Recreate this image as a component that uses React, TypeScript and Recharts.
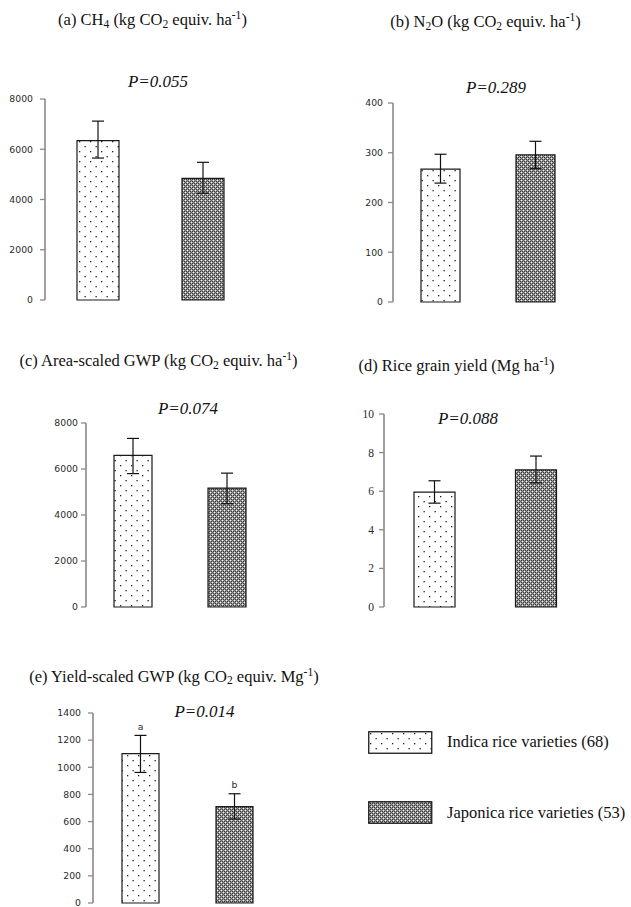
import React from 'react';
import { BarChart, Bar, XAxis, YAxis, ErrorBar, Cell, LabelList } from 'recharts';

const categories = ['Indica rice varieties (68)', 'Japonica rice varieties (53)'];

const ch4Mean = [6340, 4840];
const ch4Lower = [5650, 4250];
const ch4Upper = [7120, 5480];

const n2oMean = [267, 296];
const n2oLower = [239, 268];
const n2oUpper = [297, 323];

const gwpMean = [6590, 5170];
const gwpLower = [5800, 4490];
const gwpUpper = [7330, 5820];

const yieldMean = [5.95, 7.11];
const yieldLower = [5.38, 6.43];
const yieldUpper = [6.54, 7.82];

const ygwpMean = [1100, 710];
const ygwpLower = [962, 619];
const ygwpUpper = [1235, 805];
const ygwpLetters = ['a', 'b'];

const ticksCH4 = [0, 2000, 4000, 6000, 8000];
const ticksN2O = [0, 100, 200, 300, 400];
const ticksGWP = [0, 2000, 4000, 6000, 8000];
const ticksYield = [0, 2, 4, 6, 8, 10];
const ticksYGWP = [0, 200, 400, 600, 800, 1000, 1200, 1400];

const fills = ['url(#dotsPat)', 'url(#checkPat)'];

function build(mean: number[], lower: number[], upper: number[], letters?: string[]) {
  return categories.map((name, i) => ({
    name,
    value: mean[i],
    upper: upper[i],
    err: [mean[i] - lower[i], upper[i] - mean[i]],
    letter: letters ? letters[i] : '',
  }));
}

const AXIS = '#8a8a8a';
const serif = "'Liberation Serif'";
const sans = "'DejaVu Sans'";

type PanelProps = {
  data: any[];
  ticks: number[];
  left: number;
  right: number;
  top: number;
  bottom: number;
  barSize: number;
  tickMargin: number;
  serifTicks?: boolean;
  letters?: boolean;
};

const Panel = ({ data, ticks, left, right, top, bottom, barSize, tickMargin, serifTicks, letters }: PanelProps) => {
  const yw = 45;
  const mt = 10;
  const mb = 10;
  const width = right - left + yw + 6;
  const height = bottom - top + mt + mb;
  const max = ticks[ticks.length - 1];
  const plotH = bottom - top;
  const Tick = (p: any) => (
    <text
      x={p.x}
      y={p.y}
      dy="0.35em"
      textAnchor="end"
      style={{ fontFamily: serifTicks ? serif : sans, fontSize: serifTicks ? 11.5 : 9.3 }}
      fill="#2a2a2a"
    >
      {p.payload.value}
    </text>
  );
  const renderLetter = (p: any) => {
    const d = data[p.index];
    if (!d || !d.letter) return null;
    const errPx = ((d.upper - d.value) / max) * plotH;
    return (
      <text
        x={p.x + p.width / 2}
        y={p.y - errPx - 9}
        dy="0.35em"
        textAnchor="middle"
        style={{ fontFamily: sans, fontSize: 9.3 }}
        fill="#2a2a2a"
      >
        {d.letter}
      </text>
    );
  };
  return (
    <div style={{ position: 'absolute', left: left - yw, top: top - mt }}>
      <BarChart width={width} height={height} data={data} margin={{ top: mt, right: 6, bottom: mb, left: 0 }} barCategoryGap={0}>
        <XAxis dataKey="name" tick={false} tickLine={false} height={0} axisLine={{ stroke: AXIS, strokeWidth: 1.6 }} />
        <YAxis
          width={yw}
          domain={[0, max]}
          ticks={ticks}
          interval={0}
          tick={<Tick />}
          tickSize={5}
          tickMargin={tickMargin}
          tickLine={{ stroke: AXIS, strokeWidth: 1.3 }}
          axisLine={{ stroke: AXIS, strokeWidth: 1.6 }}
        />
        <Bar dataKey="value" barSize={barSize} stroke="#1a1a1a" strokeWidth={1.2} isAnimationActive={false}>
          {data.map((_, i) => (
            <Cell key={i} fill={fills[i]} />
          ))}
          <ErrorBar dataKey="err" width={6} stroke="#111" strokeWidth={1.2} isAnimationActive={false} />
          {letters ? <LabelList dataKey="letter" content={renderLetter} /> : null}
        </Bar>
      </BarChart>
    </div>
  );
};

const Title = ({ cx, cy, children }: { cx: number; cy: number; children: React.ReactNode }) => (
  <div
    style={{
      position: 'absolute',
      left: cx - 200,
      top: cy - 8,
      width: 400,
      textAlign: 'center',
      fontFamily: serif,
      fontSize: 16.5,
      lineHeight: '16px',
      color: '#111',
      whiteSpace: 'nowrap',
    }}
  >
    {children}
  </div>
);

const PVal = ({ cx, cy, text }: { cx: number; cy: number; text: string }) => (
  <div
    style={{
      position: 'absolute',
      left: cx - 100,
      top: cy - 8,
      width: 200,
      textAlign: 'center',
      fontFamily: serif,
      fontStyle: 'italic',
      fontSize: 17,
      lineHeight: '16px',
      color: '#111',
    }}
  >
    {text}
  </div>
);

const Sub = ({ children }: { children: React.ReactNode }) => (
  <span style={{ fontSize: '0.7em', position: 'relative', top: '0.25em' }}>{children}</span>
);
const Sup = ({ children }: { children: React.ReactNode }) => (
  <span style={{ fontSize: '0.7em', position: 'relative', top: '-0.5em' }}>{children}</span>
);

const LegendItem = ({ top, fill, label }: { top: number; fill: string; label: string }) => (
  <div style={{ position: 'absolute', left: 368, top, height: 23, display: 'flex', alignItems: 'center' }}>
    <svg width={65} height={23} style={{ display: 'block' }}>
      <rect x={0.75} y={0.75} width={63} height={21.5} fill={fill} stroke="#1a1a1a" strokeWidth={1.3} />
    </svg>
    <span style={{ marginLeft: 14, fontFamily: serif, fontSize: 16.5, color: '#111', whiteSpace: 'nowrap' }}>{label}</span>
  </div>
);

export default function App() {
  return (
    <div style={{ position: 'absolute', left: 0, top: 0, width: 631, height: 907, background: '#fff', overflow: 'hidden' }}>
      <svg width={0} height={0} style={{ position: 'absolute' }}>
        <defs>
          <pattern id="dotsPat" width={11} height={10} patternUnits="userSpaceOnUse">
            <rect width={11} height={10} fill="#ffffff" />
            <rect x={2} y={2} width={1.3} height={1.3} fill="#222" />
            <rect x={7.5} y={7} width={1.3} height={1.3} fill="#222" />
          </pattern>
          <pattern id="checkPat" width={4} height={4} patternUnits="userSpaceOnUse">
            <rect width={4} height={4} fill="#9a9a9a" />
            <rect x={0} y={0} width={1} height={1} fill="#3a3a3a" />
            <rect x={2} y={0} width={1} height={1} fill="#3a3a3a" />
            <rect x={1} y={1} width={1} height={1} fill="#6a6a6a" />
            <rect x={3} y={1} width={1} height={1} fill="#f2f2f2" />
            <rect x={0} y={2} width={1} height={1} fill="#3a3a3a" />
            <rect x={2} y={2} width={1} height={1} fill="#3a3a3a" />
            <rect x={1} y={3} width={1} height={1} fill="#f2f2f2" />
            <rect x={3} y={3} width={1} height={1} fill="#6a6a6a" />
          </pattern>
        </defs>
      </svg>

      <Title cx={152.5} cy={20}>
        (a) CH<Sub>4</Sub> (kg CO<Sub>2</Sub> equiv. ha<Sup>-1</Sup>)
      </Title>
      <Title cx={485.5} cy={22}>
        (b) N<Sub>2</Sub>O (kg CO<Sub>2</Sub> equiv. ha<Sup>-1</Sup>)
      </Title>
      <Title cx={158.5} cy={361}>
        (c) Area-scaled GWP (kg CO<Sub>2</Sub> equiv. ha<Sup>-1</Sup>)
      </Title>
      <Title cx={456.5} cy={365.5}>
        (d) Rice grain yield (Mg ha<Sup>-1</Sup>)
      </Title>
      <Title cx={174} cy={676.5}>
        (e) Yield-scaled GWP (kg CO<Sub>2</Sub> equiv. Mg<Sup>-1</Sup>)
      </Title>

      <PVal cx={158} cy={81.5} text="P=0.055" />
      <PVal cx={496} cy={88} text="P=0.289" />
      <PVal cx={188} cy={409} text="P=0.074" />
      <PVal cx={468} cy={419} text="P=0.088" />
      <PVal cx={204.5} cy={711.5} text="P=0.014" />

      <Panel data={build(ch4Mean, ch4Lower, ch4Upper)} ticks={ticksCH4} left={45} right={255} top={99} bottom={300} barSize={42} tickMargin={7} />
      <Panel data={build(n2oMean, n2oLower, n2oUpper)} ticks={ticksN2O} left={393} right={583} top={103} bottom={302} barSize={39} tickMargin={5} />
      <Panel data={build(gwpMean, gwpLower, gwpUpper)} ticks={ticksGWP} left={86} right={274} top={423} bottom={607} barSize={38} tickMargin={3} />
      <Panel data={build(yieldMean, yieldLower, yieldUpper)} ticks={ticksYield} left={384} right={587} top={414} bottom={607} barSize={41} tickMargin={5} serifTicks />
      <Panel data={build(ygwpMean, ygwpLower, ygwpUpper, ygwpLetters)} ticks={ticksYGWP} left={93} right={281} top={713} bottom={903} barSize={37} tickMargin={7} letters />

      <LegendItem top={730.5} fill={fills[0]} label={categories[0]} />
      <LegendItem top={801} fill={fills[1]} label={categories[1]} />
    </div>
  );
}
